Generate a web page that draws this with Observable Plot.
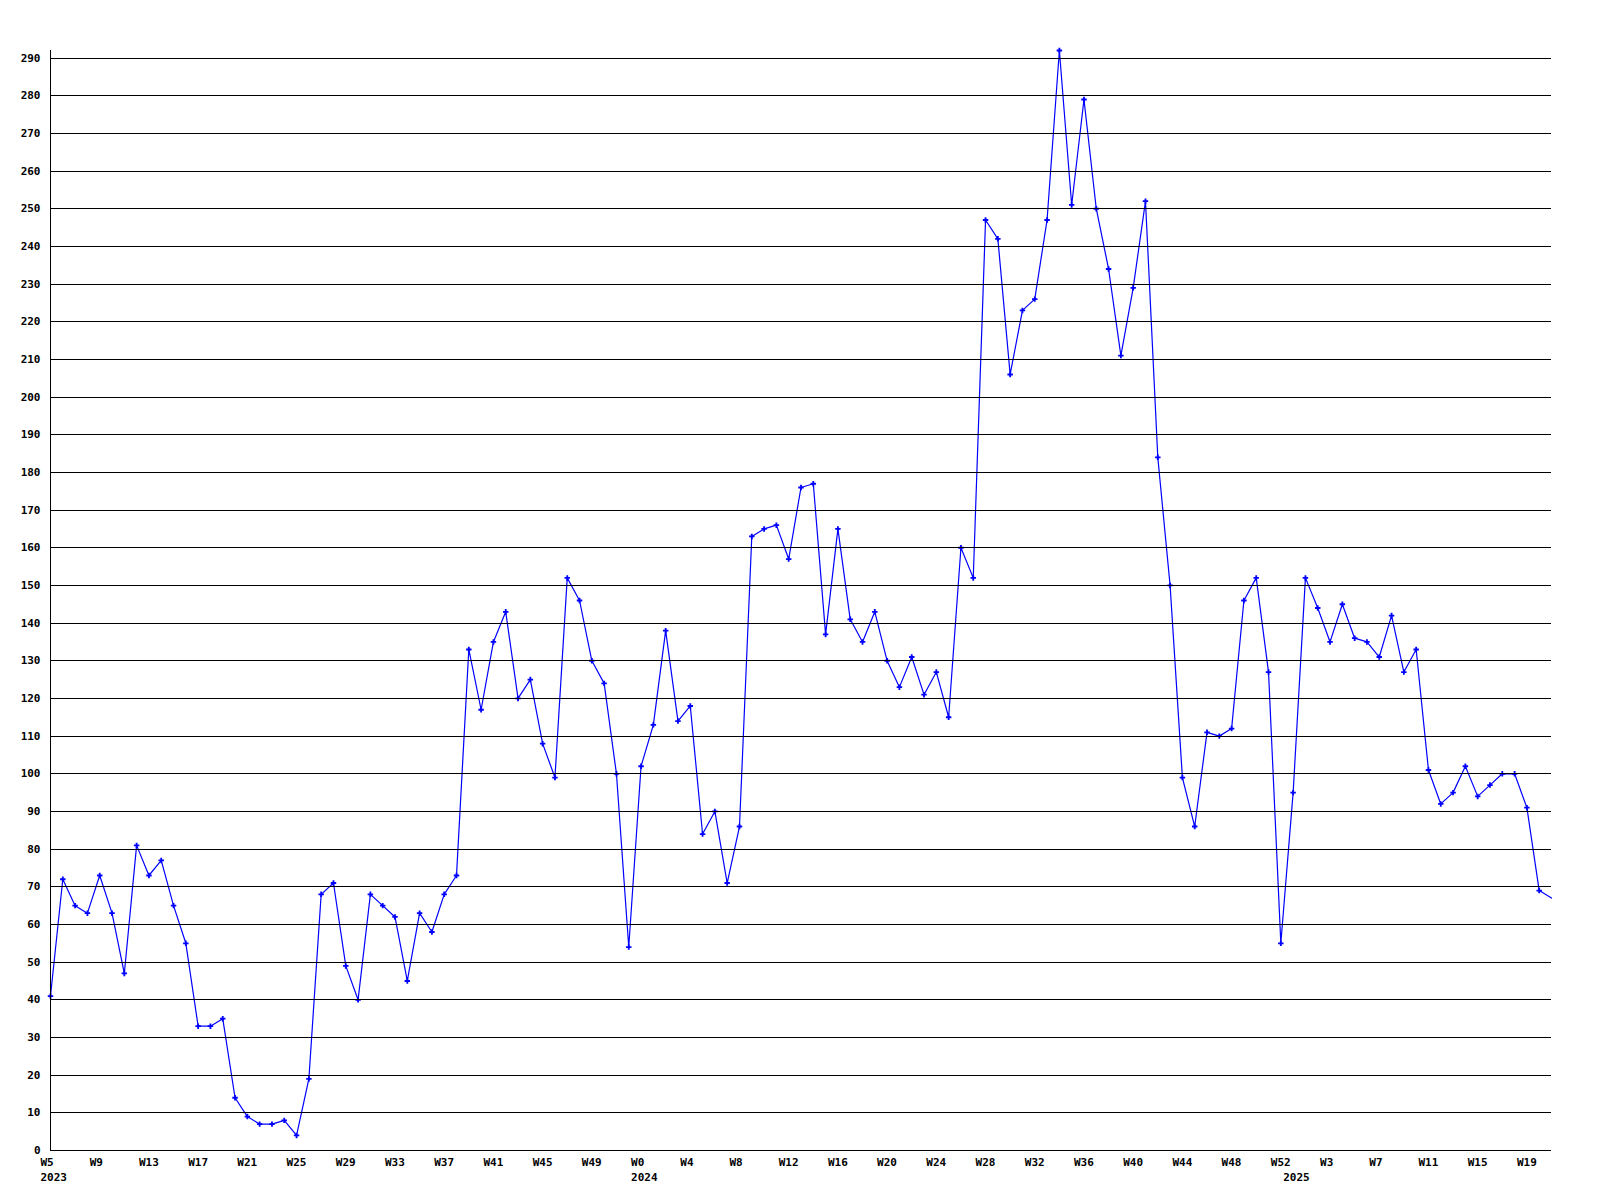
<!DOCTYPE html>
<html>
<head>
<meta charset="utf-8">
<script src="https://cdn.jsdelivr.net/npm/d3@7"></script>
<script src="https://cdn.jsdelivr.net/npm/@observablehq/plot@0.6"></script>
<style>
  html, body { margin: 0; padding: 0; background: #fff; }
  #chart svg { display: block; }
</style>
</head>
<body>
<div id="chart"></div>
<script>
// Weekly values
const weeks2023 = d3.range(5, 53);   // W5 .. W52
const values2023 = [41, 72, 65, 63, 73, 63, 47, 81, 73, 77, 65, 55, 33, 33, 35, 14, 9, 7, 7, 8,
  4, 19, 68, 71, 49, 40, 68, 65, 62, 45, 63, 58, 68, 73, 133, 117, 135, 143, 120, 125,
  108, 99, 152, 146, 130, 124, 100, 54];
const weeks2024 = d3.range(0, 53);   // W0 .. W52
const values2024 = [102, 113, 138, 114, 118, 84, 90, 71, 86, 163, 165, 166, 157, 176, 177, 137, 165, 141, 135, 143,
  130, 123, 131, 121, 127, 115, 160, 152, 247, 242, 206, 223, 226, 247, 292, 251, 279, 250, 234, 211,
  229, 252, 184, 150, 99, 86, 111, 110, 112, 146, 152, 127, 55];
const weeks2025 = d3.range(0, 22);   // W0 .. W21
const values2025 = [95, 152, 144, 135, 145, 136, 135, 131, 142, 127, 133, 101, 92, 95, 102, 94, 97, 100, 100, 91,
  69, 67];

const yTicks = d3.range(0, 300, 10);

// Build table
const rows = [];
[[2023, weeks2023, values2023], [2024, weeks2024, values2024], [2025, weeks2025, values2025]]
  .forEach(([year, wk, vals]) => {
    wk.forEach((w, i) => rows.push({year, week: w, value: vals[i], first: i === 0}));
  });
rows.forEach((d, i) => d.i = i);

const weekLabels = rows.filter(d => d.i % 4 === 0);
const yearLabels = rows.filter(d => d.first);
const markers = rows.slice(0, rows.length - 1); // last (partial) week has no marker at the edge

const font = "DejaVu Sans Mono";

const chart = Plot.plot({
  width: 1600,
  height: 1200,
  marginLeft: 50,
  marginRight: 49,
  marginTop: 50,
  marginBottom: 50,
  style: {fontFamily: font, fontSize: "11px", fontWeight: "bold", background: "#fff", color: "#000"},
  x: {domain: [0, rows.length - 1], axis: null},
  y: {domain: [0, 292], axis: null},
  marks: [
    Plot.line(rows, {x: "i", y: "value", stroke: "#0000ff", strokeWidth: 1.2}),
    Plot.dot(markers, {x: "i", y: "value", symbol: "cross", r: 2.3, fill: "#0000ff", stroke: null}),
    Plot.ruleY(yTicks, {stroke: "#000", strokeWidth: 1, shapeRendering: "crispEdges"}),
    Plot.ruleX([0], {stroke: "#000", strokeWidth: 1, shapeRendering: "crispEdges"}),
    Plot.axisY(yTicks, {label: null, tickSize: 0, tickPadding: 10, fontSize: 11, fontWeight: "bold", fontFamily: font, fill: "#000"}),
    Plot.text(weekLabels, {x: "i", text: d => "W" + d.week, frameAnchor: "bottom", textAnchor: "start",
      dx: -10, dy: 12, lineAnchor: "middle", fontSize: 11, fontWeight: "bold", fontFamily: font, fill: "#000"}),
    Plot.text(yearLabels, {x: "i", text: d => String(d.year), frameAnchor: "bottom", textAnchor: "start",
      dx: -10, dy: 27, lineAnchor: "middle", fontSize: 11, fontWeight: "bold", fontFamily: font, fill: "#000"})
  ]
});
document.getElementById("chart").appendChild(chart);
</script>
</body>
</html>
